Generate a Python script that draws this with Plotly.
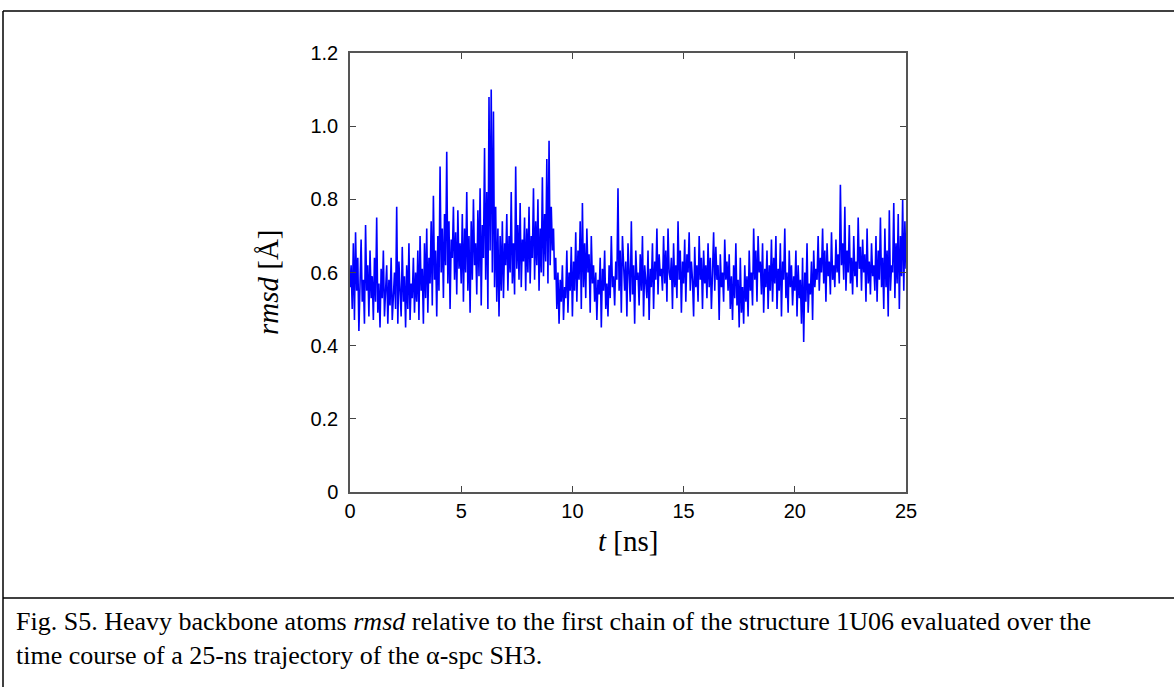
import numpy as np
import plotly.graph_objects as go

# time axis in ns, sampled every 0.05 ns
t = np.round(np.arange(0, 25.001, 0.05), 2)

# rmsd [A], one row per ns
rmsd = [
    0.56,0.62,0.50,0.68,0.47,0.71,0.55,0.64,0.44,0.60,0.69,0.52,0.58,0.46,0.73,0.55,0.62,0.48,0.66,0.53,
    0.59,0.47,0.64,0.52,0.75,0.49,0.57,0.45,0.61,0.53,0.66,0.48,0.55,0.62,0.46,0.58,0.51,0.64,0.47,0.56,
    0.60,0.50,0.78,0.46,0.63,0.55,0.48,0.67,0.52,0.59,0.45,0.62,0.50,0.68,0.47,0.57,0.53,0.64,0.49,0.60,
    0.52,0.66,0.47,0.70,0.55,0.61,0.46,0.68,0.53,0.72,0.49,0.64,0.57,0.74,0.51,0.81,0.58,0.66,0.48,0.70,
    0.55,0.89,0.60,0.72,0.53,0.76,0.62,0.93,0.57,0.74,0.50,0.69,0.64,0.78,0.58,0.71,0.54,0.77,0.61,0.68,
    0.57,0.76,0.52,0.72,0.60,0.82,0.55,0.70,0.49,0.74,0.58,0.80,0.62,0.68,0.54,0.77,0.59,0.83,0.51,0.73,
    0.64,0.94,0.58,0.82,0.50,1.08,0.66,1.10,0.60,1.04,0.56,0.78,0.52,0.72,0.48,0.70,0.55,0.74,0.53,0.68,
    0.62,0.76,0.55,0.70,0.60,0.82,0.57,0.68,0.54,0.89,0.61,0.73,0.58,0.79,0.56,0.69,0.63,0.75,0.55,0.72,
    0.60,0.78,0.57,0.70,0.64,0.83,0.58,0.74,0.62,0.80,0.55,0.72,0.60,0.86,0.59,0.76,0.63,0.91,0.57,0.96,
    0.62,0.78,0.66,0.72,0.58,0.64,0.50,0.60,0.46,0.58,0.52,0.62,0.47,0.56,0.53,0.66,0.49,0.60,0.55,0.67,
    0.48,0.63,0.55,0.71,0.52,0.66,0.58,0.74,0.50,0.79,0.56,0.68,0.53,0.72,0.60,0.65,0.49,0.70,0.57,0.62,
    0.52,0.60,0.47,0.58,0.54,0.64,0.45,0.61,0.55,0.66,0.50,0.57,0.48,0.62,0.53,0.70,0.56,0.59,0.51,0.63,
    0.58,0.83,0.55,0.66,0.49,0.70,0.60,0.55,0.63,0.48,0.68,0.57,0.52,0.74,0.54,0.62,0.46,0.66,0.58,0.60,
    0.51,0.65,0.55,0.70,0.48,0.62,0.57,0.53,0.66,0.47,0.61,0.56,0.68,0.50,0.63,0.58,0.72,0.54,0.65,0.59,
    0.61,0.55,0.70,0.57,0.66,0.52,0.72,0.60,0.58,0.64,0.50,0.68,0.56,0.62,0.53,0.74,0.58,0.66,0.49,0.63,
    0.57,0.69,0.52,0.65,0.60,0.71,0.55,0.63,0.58,0.48,0.67,0.56,0.62,0.52,0.70,0.58,0.64,0.50,0.66,0.57,
    0.62,0.53,0.68,0.56,0.64,0.50,0.60,0.71,0.55,0.67,0.58,0.62,0.47,0.65,0.56,0.60,0.52,0.69,0.58,0.63,
    0.55,0.65,0.50,0.59,0.47,0.62,0.53,0.68,0.51,0.58,0.45,0.64,0.49,0.56,0.46,0.62,0.52,0.59,0.48,0.66,
    0.55,0.60,0.51,0.72,0.58,0.66,0.52,0.70,0.60,0.63,0.54,0.68,0.49,0.61,0.56,0.66,0.50,0.62,0.55,0.69,
    0.52,0.64,0.57,0.70,0.50,0.61,0.55,0.68,0.48,0.63,0.58,0.72,0.53,0.60,0.49,0.66,0.56,0.62,0.51,0.59,
    0.55,0.66,0.48,0.62,0.53,0.58,0.46,0.64,0.41,0.60,0.52,0.68,0.49,0.57,0.54,0.63,0.47,0.66,0.56,0.61,
    0.58,0.70,0.55,0.64,0.60,0.72,0.57,0.66,0.52,0.68,0.59,0.63,0.54,0.71,0.58,0.62,0.56,0.69,0.60,0.65,
    0.57,0.84,0.62,0.68,0.58,0.78,0.55,0.66,0.60,0.73,0.57,0.64,0.54,0.70,0.59,0.63,0.56,0.75,0.61,0.67,
    0.55,0.69,0.60,0.65,0.52,0.72,0.57,0.63,0.54,0.68,0.59,0.62,0.55,0.70,0.52,0.66,0.58,0.75,0.56,0.64,
    0.50,0.72,0.56,0.66,0.48,0.77,0.55,0.62,0.60,0.79,0.53,0.68,0.57,0.76,0.50,0.70,0.59,0.80,0.55,0.74,
    0.61,
]

x_ticks = [0, 5, 10, 15, 20, 25]
y_ticks = [0, 0.2, 0.4, 0.6, 0.8, 1.0, 1.2]
y_tick_text = ["0", "0.2", "0.4", "0.6", "0.8", "1.0", "1.2"]

caption1 = "Fig. S5. Heavy backbone atoms <i>rmsd</i> relative to the first chain of the structure 1U06 evaluated over the"
caption2 = "time course of a 25-ns trajectory of the α-spc SH3."

W, H = 1174, 687
L, R, T, B = 350, 906, 53, 492

def px(x):
    return (x - L) / (R - L)

def py(y):
    return (B - y) / (B - T)

fig = go.Figure(go.Scatter(x=t, y=rmsd, mode="lines",
                           line=dict(color="#0000ff", width=1.6)))

axis_common = dict(ticks="inside", ticklen=6, tickwidth=1, tickcolor="#444",
                   showline=True, linecolor="#555", linewidth=1.5, mirror="ticks",
                   showgrid=False, zeroline=False,
                   tickfont=dict(family="Liberation Sans, Arial", size=20, color="black"))

fig.update_xaxes(range=[0, 25], tickvals=x_ticks, **axis_common)
fig.update_yaxes(range=[0, 1.2], tickvals=y_ticks, ticktext=y_tick_text,
                 ticklabelstandoff=6, **axis_common)

serif = "Liberation Serif, Times New Roman"

def label(x, y, text, size, **kw):
    fig.add_annotation(x=px(x), y=py(y), xref="paper", yref="paper", showarrow=False,
                       yanchor="middle", text=text,
                       font=dict(family=serif, size=size, color="black"), **kw)

label(628, 541, "<i>t</i> [ns]", 29, xanchor="center")
label(268, 282, "<i>rmsd</i> [Å]", 29, xanchor="center", textangle=-90)
label(14, 621, caption1, 26, xanchor="left")
label(14, 655, caption2, 26, xanchor="left")

# frame around figure and caption
frame = dict(color="black", width=1.5)
fig.add_shape(type="line", xref="paper", yref="paper", x0=px(3), x1=px(1180), y0=py(11), y1=py(11), line=frame)
fig.add_shape(type="line", xref="paper", yref="paper", x0=px(3), x1=px(3), y0=py(11), y1=py(700), line=frame)
fig.add_shape(type="line", xref="paper", yref="paper", x0=px(3), x1=px(1180), y0=py(598), y1=py(598), line=frame)

fig.update_layout(width=W, height=H, plot_bgcolor="white", paper_bgcolor="white",
                  showlegend=False,
                  margin=dict(l=L, r=W - R, t=T, b=H - B))

fig.write_html("out.html", config={"displayModeBar": False},
               post_script="document.body.style.margin='0';")
